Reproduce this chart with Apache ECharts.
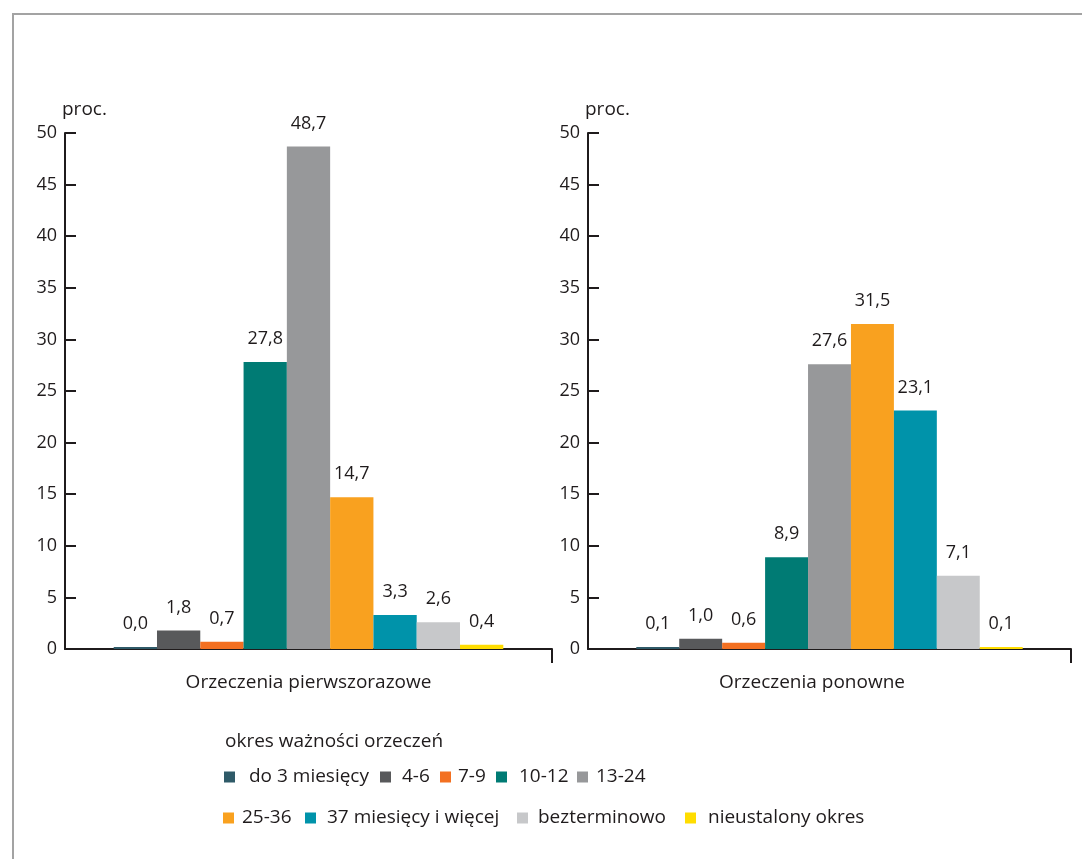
<!DOCTYPE html>
<html>
<head>
<meta charset="utf-8">
<script src="https://cdn.jsdelivr.net/npm/echarts@6/dist/echarts.min.js"></script>
<style>html,body{margin:0;padding:0;background:#fff;}#c{width:1082px;height:859px;}</style>
</head>
<body>
<div id="c"></div>
<script>
// ---- data ----
var categories = ['Orzeczenia pierwszorazowe', 'Orzeczenia ponowne'];
var seriesNames = ['do 3 miesięcy', '4-6', '7-9', '10-12', '13-24', '25-36', '37 miesięcy i więcej', 'bezterminowo', 'nieustalony okres'];
var firstTime = [0.0, 1.8, 0.7, 27.8, 48.7, 14.7, 3.3, 2.6, 0.4];
var repeated = [0.1, 1.0, 0.6, 8.9, 27.6, 31.5, 23.1, 7.1, 0.1];
var yTicks = [0, 5, 10, 15, 20, 25, 30, 35, 40, 45, 50];
var legendTitle = 'okres ważności orzeczeń';
var unitName = 'proc.';

// ---- style ----
var colors = ['#2f5a68', '#58595b', '#f37021', '#007b74', '#97989a', '#f9a11f', '#0093aa', '#c7c8ca', '#ffdd00'];
var ink = '#1f1b1c';
var numFont = 18, textFont = 19;
var fontFam = '"Open Sans", "Noto Sans", sans-serif';
// legend layout: [left, rowCenterY, textPadLeft]
var legendLayout = [
  [224, 777, 9], [380, 777, 6], [440, 777, 2], [496, 777, 7], [577, 777, 3],
  [223, 818, 3], [305, 818, 6], [517, 818, 5], [685, 818, 7]
];

var chart = echarts.init(document.getElementById('c'), null, {renderer: 'canvas'});

function fmt(v) { return v.toFixed(1).replace('.', ','); }

function yAxisCfg(gi) {
  return {
    type: 'value', gridIndex: gi, min: yTicks[0], max: yTicks[yTicks.length - 1], interval: 5,
    name: unitName, nameLocation: 'end', nameGap: 14,
    nameTextStyle: {color: ink, fontSize: textFont, fontFamily: fontFam, align: 'left', padding: [0, 0, 0, -3]},
    axisLine: {show: true, lineStyle: {color: ink, width: 2}},
    axisTick: {show: true, inside: true, length: 11, lineStyle: {color: ink, width: 2}},
    axisLabel: {color: ink, fontSize: numFont, fontFamily: fontFam, margin: 8},
    splitLine: {show: false}
  };
}
function xAxisCfg(gi, padRight) {
  return {
    type: 'category', gridIndex: gi, data: [categories[gi]],
    axisLine: {show: true, lineStyle: {color: ink, width: 2}},
    axisTick: {show: false},
    axisLabel: {color: ink, fontSize: textFont, fontFamily: fontFam, margin: 24, padding: [0, padRight, 0, 0]}
  };
}

var series = [];
[firstTime, repeated].forEach(function (vals, gi) {
  seriesNames.forEach(function (nm, i) {
    series.push({
      type: 'bar', name: nm, xAxisIndex: gi, yAxisIndex: gi,
      data: [vals[i]],
      itemStyle: {color: colors[i]},
      barGap: '0%', barCategoryGap: '20%', barMinHeight: 2,
      label: {show: true, position: 'top', distance: 14, color: ink, fontSize: numFont, fontFamily: fontFam,
        formatter: function (p) { return fmt(p.value); }},
      emphasis: {disabled: true},
      animation: false
    });
  });
});

var legends = seriesNames.map(function (nm, i) {
  var L = legendLayout[i];
  return {
    data: [nm], left: L[0], top: L[1] - 10, orient: 'horizontal',
    itemWidth: 11, itemHeight: 11, icon: 'rect', selectedMode: false,
    padding: 0,
    textStyle: {color: ink, fontSize: textFont, fontFamily: fontFam, lineHeight: 20, padding: [0, 0, 0, L[2]]}
  };
});

chart.setOption({
  animation: false,
  color: colors,
  title: {text: legendTitle, left: 220, top: 727,
    textStyle: {color: ink, fontSize: textFont, fontWeight: 'normal', fontFamily: fontFam}},
  graphic: [{type: 'rect', shape: {x: 13, y: 14, width: 1200, height: 1000}, silent: true,
    style: {fill: 'none', stroke: '#a3a3a3', lineWidth: 2}}],
  grid: [
    {left: 65, right: 1082 - 552, top: 133, bottom: 859 - 649},
    {left: 588, right: 1082 - 1071, top: 133, bottom: 859 - 649}
  ],
  xAxis: [xAxisCfg(0, 0), xAxisCfg(1, 35)],
  yAxis: [yAxisCfg(0), yAxisCfg(1)],
  legend: legends,
  series: series
});

// end-of-axis tick (only at the right end of each category axis), placed through the axis scale
var endTicks = [0, 1].map(function (gi) {
  var a = chart.convertToPixel({xAxisIndex: gi}, categories[gi]);
  var grid = chart.getModel().getComponent('grid', gi).coordinateSystem.getRect();
  var xEnd = grid.x + grid.width;
  var y0 = chart.convertToPixel({yAxisIndex: gi}, 0);
  return {type: 'line', silent: true, shape: {x1: xEnd, y1: y0, x2: xEnd, y2: y0 + 14},
    style: {stroke: ink, lineWidth: 2}};
});
chart.setOption({graphic: [{type: 'rect', shape: {x: 13, y: 14, width: 1200, height: 1000}, silent: true,
  style: {fill: 'none', stroke: '#a3a3a3', lineWidth: 2}}].concat(endTicks)});
</script>
</body>
</html>
